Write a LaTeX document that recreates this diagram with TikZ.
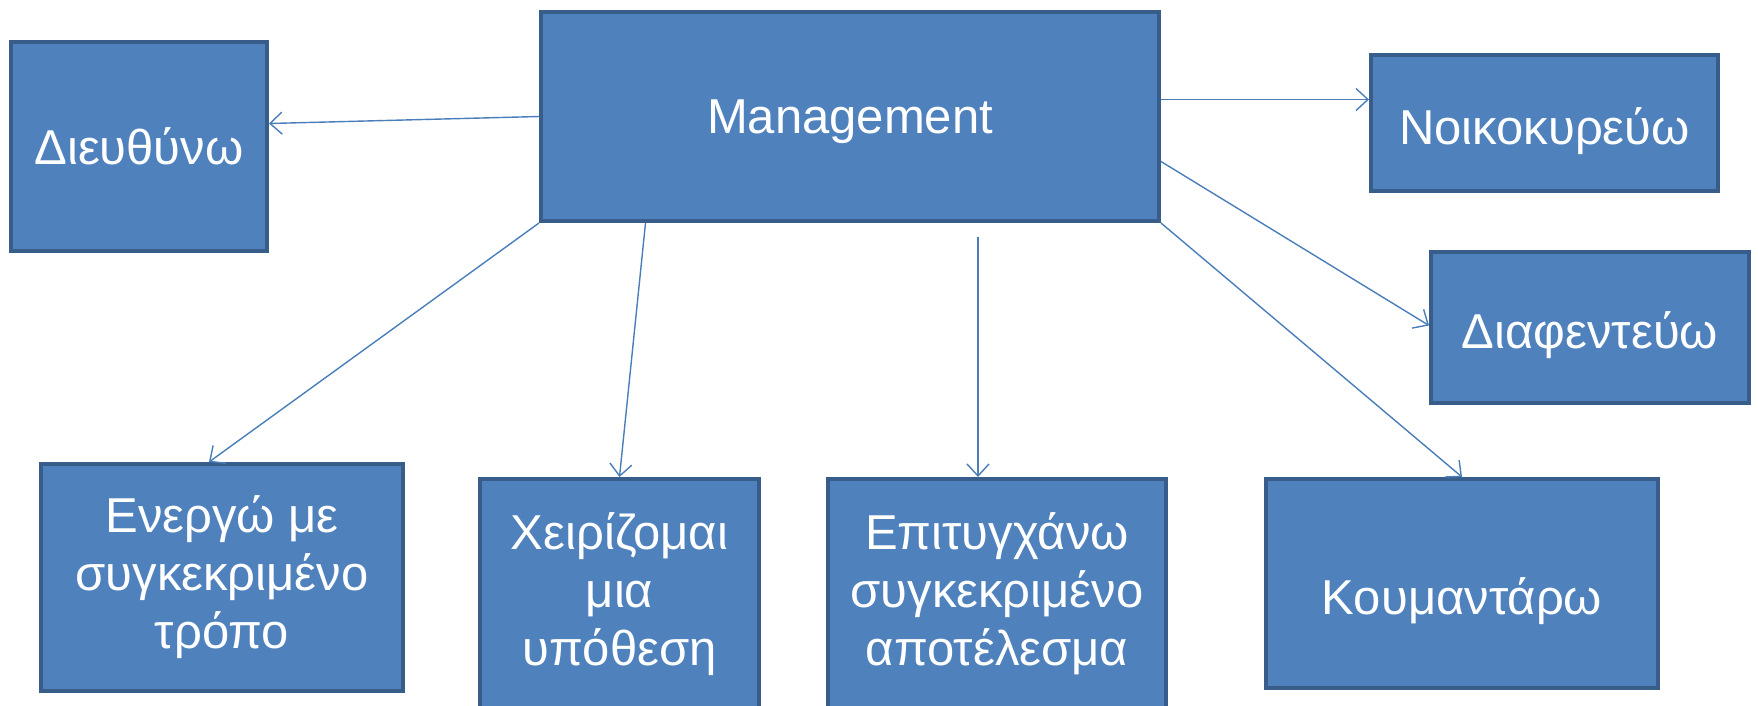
\documentclass[tikz,border=0pt]{standalone}
\usepackage{fontspec}
\setmainfont{Liberation Sans}
\usetikzlibrary{arrows.meta,calc}
\definecolor{boxfill}{HTML}{4F81BD}
\definecolor{boxline}{HTML}{385D8A}
\definecolor{arrowc}{HTML}{4A7EBB}
\newcommand{\lowered}[2]{\raisebox{-#1}[\height][\depth]{#2}}
\begin{document}
\begin{tikzpicture}[x=1pt,y=-1pt,
  box/.style={draw=boxline,fill=boxfill,line width=4pt,text=white,inner sep=0pt,align=center,
    font=\fontsize{49}{58}\selectfont},
  conn/.style={draw=arrowc,line width=1.4pt,-{Straight Barb[length=12pt,width=22pt,line width=1.4pt]}}]
\useasboundingbox (0,0) rectangle (1758,705);
\node[box,minimum width=618pt,minimum height=209pt] (m) at (850,116.5) {\lowered{5pt}{Management}};
\node[box,minimum width=256pt,minimum height=209pt] (d) at (139,146.5) {Διευθύνω};
\node[box,minimum width=347pt,minimum height=136pt] (n) at (1544.5,123) {\lowered{8pt}{Νοικοκυρεύω}};
\node[box,minimum width=318pt,minimum height=151pt] (f) at (1590,327.5) {\lowered{8pt}{Διαφεντεύω}};
\node[box,minimum width=362pt,minimum height=227pt] (ener) at (222,577.5) {Ενεργώ με\\συγκεκριμένο\\τρόπο};
\node[box,minimum width=279pt,minimum height=230pt] (ch) at (619.5,594) {Χειρίζομαι\\μια\\υπόθεση};
\node[box,minimum width=338pt,minimum height=230pt] (e) at (997,594) {Επιτυγχάνω\\συγκεκριμένο\\αποτέλεσμα};
\node[box,minimum width=392pt,minimum height=209pt] (k) at (1462,583.5) {\lowered{18pt}{Κουμαντάρω}};
% connectors
\draw[conn] (m.west) -- ([yshift=23pt]d.east);
\draw[conn] ([yshift=17pt]m.east) -- ([yshift=17pt]m.east -| n.west);
\draw[conn] ([yshift=-45pt]m.east) -- ([yshift=2pt]f.west);
\draw[conn] (m.south east) -- (k.north);
\coordinate (etip) at ([xshift=-19pt]e.north);
\coordinate (estart) at ($(etip |- m.south)+(0,14)$);
\draw[conn] (estart) -- (etip);
\draw[conn] ([xshift=-204.5pt]m.south) -- (ch.north);
\draw[conn] (m.south west) -- ([xshift=-13pt]ener.north);
\end{tikzpicture}
\end{document}
